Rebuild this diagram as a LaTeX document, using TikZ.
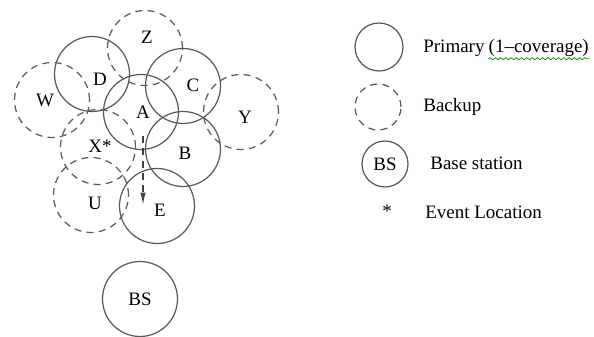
\documentclass[tikz,border=0pt]{standalone}
\usepackage{fontspec}
\setmainfont{Liberation Serif}
\usetikzlibrary{arrows.meta,decorations.pathmorphing}
\begin{document}
\begin{tikzpicture}[x=0.02cm,y=-0.02cm,font=\fontsize{10.8}{13}\selectfont,
    primary/.style={circle,draw=black!65,line width=0.7pt,inner sep=0pt,minimum size=1.5cm},
    backup/.style={primary,dash pattern=on 4pt off 3pt},
    txt/.style={inner sep=0pt}]
  \useasboundingbox (0,0) rectangle (594,337);
  % coverage areas
  \draw
    (52,100) node[backup] (W){}
    (145,48) node[backup] (Z){}
    (241,112) node[backup] (Y){}
    (98,147) node[backup] (X){}
    (91,195) node[backup] (U){}
    (92,74) node[primary] (D){}
    (183,86) node[primary] (C){}
    (141,112) node[primary] (A){}
    (183,149) node[primary] (B){}
    (157,206) node[primary] (E){}
    (140,299) node[primary] (BS){BS};
  \draw
    (147,37) node[txt] (lZ){Z}
    (100,79) node[txt] (lD){D}
    (193,85) node[txt] (lC){C}
    (143,112) node[txt] (lA){A}
    (45,100) node[txt] (lW){W}
    (245,117) node[txt] (lY){Y}
    (185,153) node[txt] (lB){B}
    (100,146) node[txt] (lX){X*}
    (95,203) node[txt] (lU){U}
    (160,210) node[txt] (lE){E};
  \coordinate (evt) at (143,136);
  \coordinate (dst) at (143,205);
  \draw[black!75,line width=0.7pt,dash pattern=on 4pt off 3pt,-{Latex[length=7pt,width=3pt]}] (evt) -- (dst);
  % legend
  \draw
    (379,47) node[primary,minimum size=0.96cm] (kP){}
    (378,107) node[backup,minimum size=0.92cm] (kB){}
    (385,164) node[primary,minimum size=0.92cm] (kS){BS}
    (387,218) node[txt,anchor=base] (kE){*};
  \draw
    (423,48) node[txt,anchor=west] (tP){Primary}
    (423,107) node[txt,anchor=west] (tB){Backup}
    (430,163) node[txt,anchor=west] (tS){Base station}
    (425,212) node[txt,anchor=west] (tE){Event Location};
  \node[txt,anchor=west] (tC) at ([xshift=2pt]tP.east) {(1--coverage)};
  \draw[green!55!black,decorate,decoration={snake,amplitude=0.6pt,segment length=3pt}]
    ([yshift=-1pt]tC.south west) -- ([yshift=-1pt]tC.south east);
\end{tikzpicture}
\end{document}
